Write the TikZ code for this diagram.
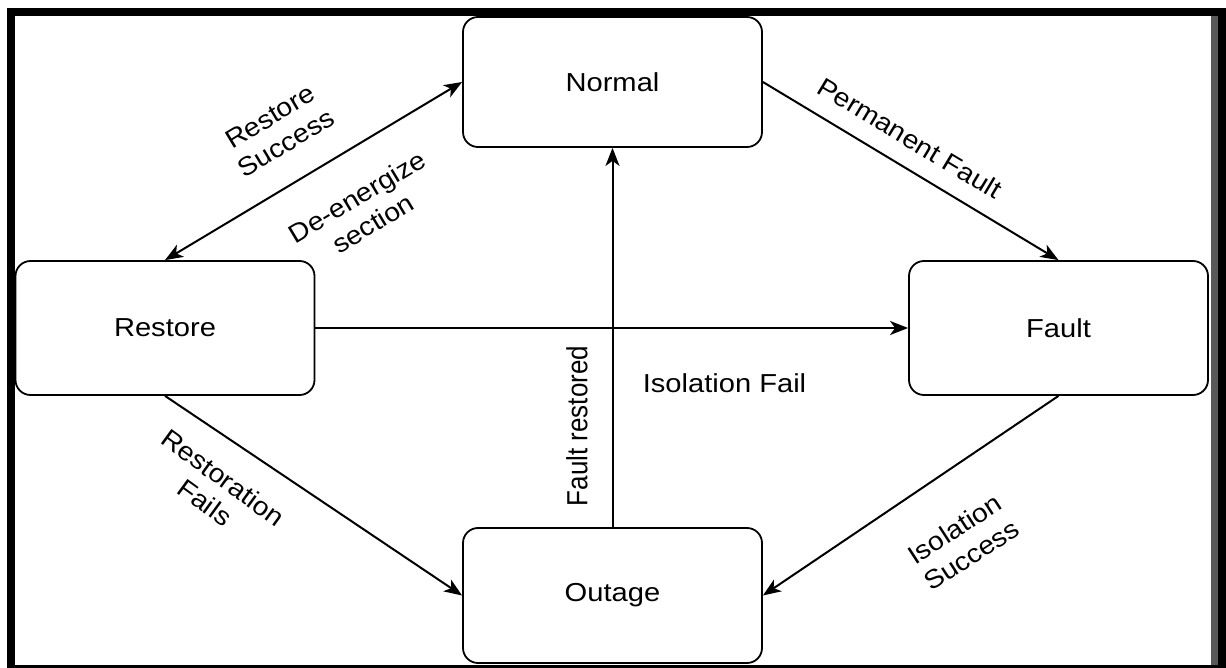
\documentclass[tikz,border=0pt]{standalone}
\usepackage{fontspec}
\usepackage{graphicx}
\usetikzlibrary{arrows.meta}
\newfontfamily\hfont{Liberation Sans}[FakeStretch=1.12]
\newfontfamily\dfont{Liberation Sans}[FakeStretch=1.09]
\newfontfamily\vfont{Liberation Sans}
\begin{document}
\begin{tikzpicture}[x=1pt,y=-1pt,
  state/.style={draw=black, line width=1.8pt, rounded corners=15pt, fill=white,
    minimum width=299pt, minimum height=134pt, inner sep=0pt,
    font=\hfont\fontsize{26}{31}\selectfont},
  tip/.style={Stealth[length=18pt,width=14pt,inset=5pt]},
  arr/.style={line width=2pt, -{Stealth[length=18pt,width=14pt,inset=5pt]}},
  darr/.style={line width=2pt, {Stealth[length=18pt,width=14pt,inset=5pt]}-{Stealth[length=18pt,width=14pt,inset=5pt]}},
  hlbl/.style={inner sep=0pt, align=center, font=\hfont\fontsize{26}{31}\selectfont},
  dlbl/.style={inner sep=0pt, align=center, font=\dfont\fontsize{26}{31}\selectfont},
  vlbl/.style={inner sep=0pt, align=center, font=\vfont\fontsize{26}{31}\selectfont}]
  \useasboundingbox (0,0) rectangle (1226,668);
  % outer frame
  \fill[white] (0,0) rectangle (1226,668);
  \fill[black] (7,8) rectangle (1226,668);
  \fill[white] (15,16) rectangle (1211,665);
  \fill[black!65] (1211,16) rectangle (1218,665);

  % states
  \node[state, minimum height=130pt] (normal) at (612.5,82) {Normal};
  \node[state] (restore) at (165,328) {Restore};
  \node[state] (fault) at (1058.5,328) {Fault};
  \node[state, minimum height=135pt] (outage) at (612.5,595.5) {Outage};

  % transitions
  \draw[darr] (restore.north) -- (normal.west);
  \draw[arr] (normal.east) -- (fault.north);
  \draw[arr] (restore.east) -- (fault.west);
  \draw[arr] (outage.north) -- (normal.south);
  \draw[arr] (restore.south) -- (outage.west);
  \draw[arr] (fault.south) -- (outage.east);

  % transition labels
  \node[dlbl, rotate=31] (lrs) at (278,130) {Restore\\Success};
  \node[dlbl, rotate=31] (lde) at (365,210) {De-energize\\section};
  \node[dlbl, rotate=-31] (lpf) at (910,138) {Permanent Fault};
  \node[dlbl, rotate=-36] (lrf) at (214,490) {Restoration\\Fails};
  \node[dlbl, rotate=33] (lis) at (963,542) {Isolation\\Success};
  \node[vlbl, rotate=90] (lfr) at (577,426) {\scalebox{1}[1.12]{Fault restored}};
  \node[hlbl] (lif) at (724.5,383) {Isolation Fail};
\end{tikzpicture}
\end{document}
